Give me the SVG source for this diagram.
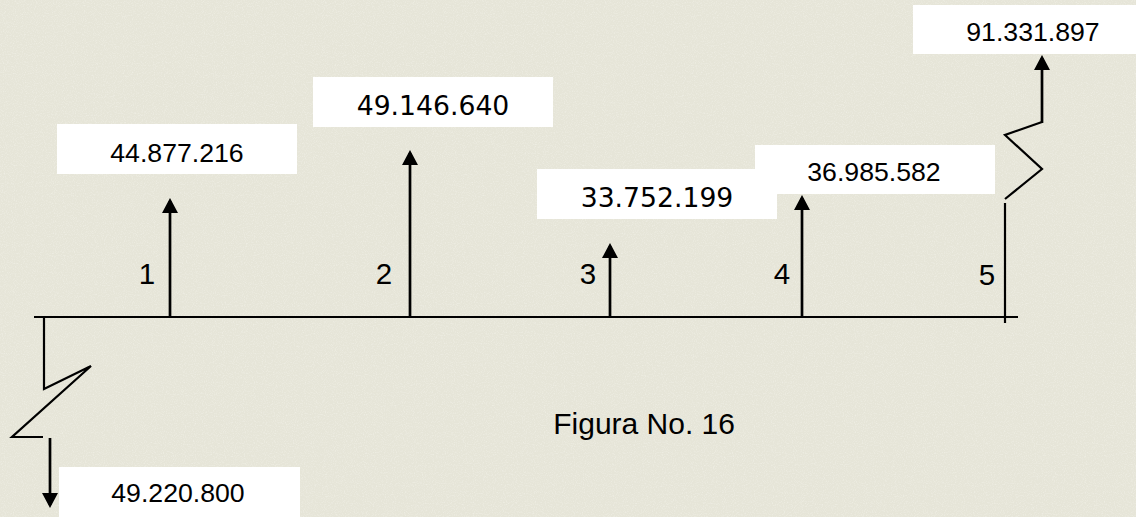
<svg xmlns="http://www.w3.org/2000/svg" width="1136" height="517" viewBox="0 0 1136 517">
<style>
.ln{stroke:#000;fill:none;stroke-width:2.2;stroke-linejoin:miter}
.ar{stroke:#000;stroke-width:2.7;fill:none}
.box{fill:#fff}
.ta{font-family:"Liberation Sans",Arial,sans-serif;font-size:26.67px;fill:#000;text-anchor:middle}
.tv{font-family:"DejaVu Sans",Verdana,sans-serif;font-size:26.67px;fill:#000;text-anchor:middle}
.lb{font-family:"Liberation Sans",Arial,sans-serif;font-size:29.5px;fill:#000;text-anchor:middle}
</style>
<defs>
<marker id="ah" markerUnits="userSpaceOnUse" viewBox="0 0 15 16" markerWidth="15" markerHeight="16" refX="12" refY="8" orient="auto">
<path d="M0,0 L15,8 L0,16 z" fill="#000"/>
</marker>
<filter id="grain" x="0" y="0" width="100%" height="100%">
<feTurbulence type="fractalNoise" baseFrequency="0.9" numOctaves="2" seed="3" result="n"/>
<feColorMatrix in="n" type="matrix" values="0 0 0 0 1  0 0 0 0 1  0 0 0 0 0.97  0 0 0 1.2 -0.55"/>
</filter>
</defs>
<rect x="0" y="0" width="1136" height="517" fill="#e6e5d8"/>
<rect x="0" y="0" width="1136" height="517" filter="url(#grain)" opacity="0.6"/>

<g id="label-boxes">
<g id="n1"><rect class="box" x="57" y="124" width="240" height="50"/><text class="ta" x="177" y="162">44.877.216</text></g>
<g id="n2"><rect class="box" x="313" y="77" width="240" height="50"/><text class="tv" x="433" y="115">49.146.640</text></g>
<g id="n4"><rect class="box" x="755" y="145" width="240" height="49"/><text class="ta" x="874" y="181">36.985.582</text></g>
<g id="n3"><rect class="box" x="537" y="169" width="240" height="50"/><text class="tv" x="657" y="207">33.752.199</text></g>
<g id="n5"><rect class="box" x="913" y="5" width="223" height="49"/><text class="ta" x="1033" y="41">91.331.897</text></g>
<g id="n0"><rect class="box" x="59" y="467" width="241" height="50"/><text class="ta" x="178" y="502">49.220.800</text></g>
</g>

<g id="period-labels">
<text class="lb" x="147" y="284">1</text>
<text class="lb" x="384" y="284">2</text>
<text class="lb" x="588" y="284">3</text>
<text class="lb" x="782" y="284">4</text>
<text class="lb" x="987" y="285">5</text>
</g>

<g id="connectors">
<line class="ln" x1="34" y1="317" x2="1018" y2="317"/>
<line class="ar" x1="170" y1="317" x2="170" y2="201" marker-end="url(#ah)"/>
<line class="ar" x1="410" y1="317" x2="410" y2="153" marker-end="url(#ah)"/>
<line class="ar" x1="610" y1="317" x2="610" y2="246" marker-end="url(#ah)"/>
<line class="ar" x1="802" y1="317" x2="802" y2="198" marker-end="url(#ah)"/>
<line class="ln" x1="1005" y1="203" x2="1005" y2="323"/>
<polyline class="ln" points="1005,199 1042,169 1005,135 1042,122"/>
<line class="ar" x1="1042" y1="123" x2="1042" y2="58" marker-end="url(#ah)"/>
<polyline class="ln" points="44,317 44,389 91,366 12,437 43,437"/>
<line class="ar" x1="50" y1="438" x2="50" y2="505" marker-end="url(#ah)"/>
</g>

<g id="caption">
<text x="735" y="434" font-family="'Liberation Sans',Arial,sans-serif" font-size="30" text-anchor="end" fill="#000">Figura No. 16</text>
</g>
</svg>
